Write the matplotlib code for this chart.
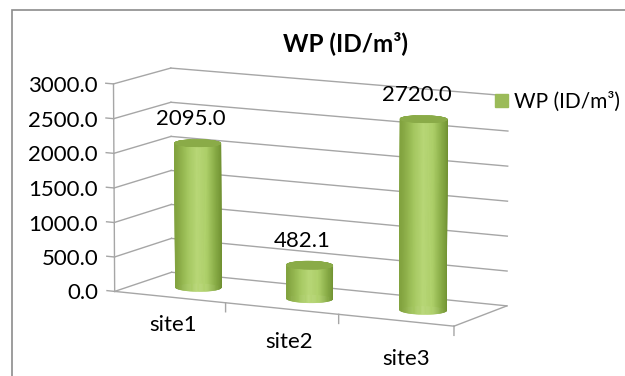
import numpy as np
import matplotlib.pyplot as plt
from matplotlib.patches import Rectangle, Patch
from matplotlib.colors import LinearSegmentedColormap
from mpl_toolkits.mplot3d import proj3d

plt.rcParams['font.family'] = ['Lato', 'DejaVu Sans']

# data
sites = ['site1', 'site2', 'site3']
wp = [2095.0, 482.1, 2720.0]
z_ticks = [0, 500, 1000, 1500, 2000, 2500, 3000]
series_name = 'WP (ID/m³)'

grid_col = '#a6a6a6'
green = '#9bbb59'
side_cmap = LinearSegmentedColormap.from_list(
    'cyl', ['#6f8f30', '#8aae48', '#aed06a', '#b8d777', '#a2c55d', '#82a33f'])

fig = plt.figure(figsize=(6.25, 3.76), dpi=100)
fig.patches.append(Rectangle((0.0192, -0.05), 1.2, 1.023, transform=fig.transFigure,
                             fill=False, ec='#8c8c8c', lw=1.2))

# 3D axes keep a square box, so make it large and let it run off the figure
ax = fig.add_axes([0.0352, -0.282, 0.896, 1.489], projection='3d', computed_zorder=False)
ax.set_proj_type('persp', focal_length=2.0)
ax.view_init(elev=10, azim=-62)
ax.set_box_aspect((3, 0.92, 1.66), zoom=0.786)
ax.set_xlim(0, 3)
ax.set_ylim(0, 1)
ax.set_zlim(0, 3000)
ax.set_axis_off()

zmax = z_ticks[-1]
# side wall and back wall gridlines
for z in z_ticks:
    ax.plot([0, 0], [0, 1], [z, z], color=grid_col, lw=1, zorder=1)
    ax.plot([0, 3], [1, 1], [z, z], color=grid_col, lw=1, zorder=1)
# value axis line and ticks
ax.plot([0, 0], [0, 0], [0, zmax], color=grid_col, lw=1, zorder=1)
for z in z_ticks:
    ax.plot([0, -0.07], [0, 0], [z, z], color=grid_col, lw=1, zorder=1)
# floor edges
ax.plot([0, 3], [0, 0], [0, 0], color=grid_col, lw=1, zorder=1)
ax.plot([3, 3], [0, 1], [0, 0], color=grid_col, lw=1, zorder=1)
for i in range(1, len(sites) + 1):
    ax.plot([i, i], [0, 0], [0, -130], color=grid_col, lw=1, zorder=1)

# cylinders
r = 0.185
theta = np.linspace(0, 2 * np.pi, 120)
for i, v in enumerate(wp):
    cx, cy = i + 0.5, 0.5
    th, hh = np.meshgrid(theta, [0, v])
    X = cx + r * np.cos(th)
    Y = cy + r * np.sin(th)
    shade = side_cmap((np.cos(th - np.deg2rad(215)) + 1) / 2)
    side = ax.plot_surface(X, Y, hh, facecolors=shade, shade=False, rstride=1,
                           cstride=1, linewidth=0.4, zorder=2 + i)
    side.set_edgecolor(shade[0, :-1])
    rr, tt = np.meshgrid([0, r], theta)
    cap = ax.plot_surface(cx + rr * np.cos(tt), cy + rr * np.sin(tt),
                          np.full_like(rr, v), color='#8aab48', shade=False,
                          rstride=1, cstride=1, linewidth=0.4, zorder=2.5 + i)
    cap.set_edgecolor('#8aab48')

# text labels placed at projected 3D anchor points
fig.canvas.draw()
M = ax.get_proj()


def anchor(x, y, z):
    xs, ys, _ = proj3d.proj_transform(x, y, z, M)
    return float(xs), float(ys)


for z in z_ticks:
    ax.annotate(f'{z:.1f}', anchor(-0.07, 0, z), xycoords='data', xytext=(-6, -2),
                textcoords='offset points', ha='right', va='center', fontsize=16)
for i, (name, v) in enumerate(zip(sites, wp)):
    ax.annotate(f'{v:.1f}', anchor(i + 0.5, 0.5, v), xycoords='data', xytext=(-5, 10.5),
                textcoords='offset points', ha='center', va='bottom', fontsize=16)
    # category labels fan out a little towards the front-right
    ax.annotate(name, anchor(i + 0.5, 0, 0), xycoords='data',
                xytext=(2.5 + 2.5 * i, -13 - 4 * i), textcoords='offset points',
                ha='center', va='top', fontsize=16)

fig.text(0.552, 0.886, 'WP (ID/m³)', ha='center', va='center', fontsize=17.5,
         fontweight='bold')
fig.legend(handles=[Patch(color=green)], labels=[series_name], loc='center left',
           bbox_to_anchor=(0.792, 0.73), frameon=False, fontsize=15,
           handlelength=0.6, handleheight=0.6, handletextpad=0.3, borderpad=0,
           borderaxespad=0)

fig.savefig('out.png', dpi=100)
